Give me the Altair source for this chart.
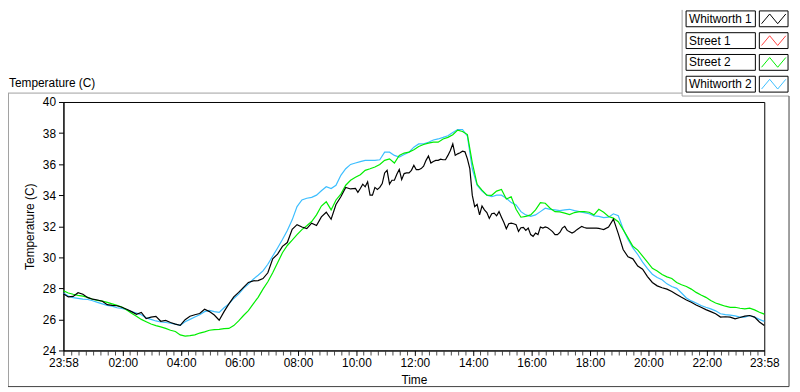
import altair as alt
import pandas as pd

FONT = "Liberation Sans"

series_names = ["Whitworth 1", "Street 1", "Street 2", "Whitworth 2"]
series_colors = ["#000000", "#FF4040", "#00EE00", "#3CBEFF"]

start_time = pd.Timestamp("2020-01-01 23:58:00")

# Whitworth 1: 10-min samples 23:58-09:48, 5-min samples 09:58-18:28, 10-min samples 18:38-23:58
whitworth_1_a = [
    27.65, 27.45, 27.48, 27.72, 27.62, 27.40, 27.30, 27.25, 27.17, 26.95,
    26.90, 26.88, 26.78, 26.65, 26.50, 26.33, 26.45, 26.05, 26.15, 26.20,
    25.88, 25.93, 25.80, 25.70, 25.62, 25.98, 26.20, 26.30, 26.38, 26.65,
    26.50, 26.28, 25.95, 26.50, 27.00, 27.45, 27.74, 28.06, 28.38, 28.48,
    28.50, 28.63, 29.00, 29.90, 30.20, 30.70, 30.95, 31.80, 32.10, 31.95,
    31.85, 32.20, 32.05, 32.60, 32.90, 32.45, 33.40, 33.90, 34.50, 34.40,
]
whitworth_1_b = [
    34.43, 34.18, 34.43, 34.71, 34.54, 34.86, 34.00, 34.00, 34.50, 34.37,
    34.50, 34.75, 35.43, 35.60, 34.71, 34.96, 34.96, 35.35, 35.66, 35.00,
    35.39, 35.43, 35.43, 35.60, 35.92, 35.64, 35.64, 35.71, 35.86, 36.24,
    36.52, 36.07, 36.17, 36.24, 36.24, 36.32, 36.28, 36.28, 36.56, 36.88,
    37.30, 36.56, 36.66, 36.73, 36.83, 36.79, 36.34, 35.71, 34.00, 33.26,
    33.40, 32.73, 33.30, 33.05, 32.88, 32.50, 32.80, 32.84, 32.67, 32.94,
    32.58, 32.24, 31.84, 32.16, 32.20, 32.16, 32.10, 31.67, 31.90, 31.92,
    31.73, 31.88, 31.46, 31.35, 31.56, 31.46, 31.95, 31.88, 31.95, 31.90,
    31.78, 31.65, 31.46, 31.46, 31.60, 31.88, 31.99, 31.73, 31.65, 31.56,
    31.65, 31.78, 31.88, 31.99, 31.92, 31.88, 31.88, 31.88, 31.88, 31.88,
    31.86, 31.82, 31.78,
]
whitworth_1_c = [
    31.95, 32.46, 31.52, 30.50, 30.03, 29.90, 29.44, 29.23,
    28.76, 28.38, 28.16, 28.04, 27.95, 27.80, 27.61, 27.42, 27.25, 27.10,
    26.93, 26.78, 26.63, 26.50, 26.36, 26.15, 26.17, 26.15, 26.04, 26.12,
    26.21, 26.25, 26.15, 25.83, 25.61,
]

street_2 = [
    27.85, 27.70, 27.62, 27.55, 27.50, 27.42, 27.30, 27.22, 27.18, 27.10,
    27.00, 26.90, 26.80, 26.60, 26.40, 26.20, 26.00, 25.85, 25.70, 25.60,
    25.52, 25.42, 25.30, 25.22, 25.00, 24.92, 24.95, 25.00, 25.12, 25.20,
    25.30, 25.34, 25.36, 25.40, 25.42, 25.60, 25.90, 26.25, 26.57, 27.00,
    27.42, 27.95, 28.42, 29.01, 29.65, 30.29, 30.76, 31.10, 31.46, 31.78,
    32.03, 32.30, 32.73, 33.30, 33.58, 33.05, 33.69, 34.07, 34.64, 34.96,
    35.15, 35.32, 35.60, 35.70, 35.81, 35.98, 36.24, 36.34, 36.07, 36.56,
    36.71, 36.77, 36.92, 37.13, 37.26, 37.35, 37.41, 37.41, 37.62, 37.72,
    37.89, 38.19, 38.10, 37.90, 36.10, 34.70, 34.33, 34.00, 33.99, 34.26,
    34.37, 33.75, 33.90, 33.09, 32.58, 32.63, 32.73, 33.05, 33.52, 33.48,
    33.16, 32.94, 32.92, 32.84, 32.75, 32.88, 32.94, 32.94, 32.90, 32.73,
    33.09, 32.90, 32.63, 32.52, 32.29, 31.78, 31.25, 30.71, 30.46, 30.08,
    29.69, 29.29, 29.12, 28.89, 28.74, 28.63, 28.38, 28.23, 28.12, 27.95,
    27.74, 27.57, 27.42, 27.21, 27.06, 26.95, 26.85, 26.78, 26.78, 26.72,
    26.68, 26.72, 26.61, 26.46, 26.34,
]

whitworth_2 = [
    27.70, 27.50, 27.40, 27.35, 27.30, 27.28, 27.20, 27.10, 27.00, 26.90,
    26.85, 26.75, 26.70, 26.62, 26.50, 26.40, 26.30, 26.10, 26.00, 25.90,
    25.83, 25.80, 25.75, 25.70, 25.62, 25.85, 26.00, 26.15, 26.30, 26.50,
    26.58, 26.50, 26.45, 26.75, 27.00, 27.35, 27.63, 28.00, 28.27, 28.59,
    28.84, 29.12, 29.55, 30.08, 30.60, 31.14, 31.73, 32.41, 33.26, 33.69,
    33.80, 33.86, 34.00, 34.28, 34.54, 34.43, 34.64, 35.28, 35.70, 35.98,
    36.07, 36.16, 36.24, 36.24, 36.24, 36.28, 36.77, 36.77, 36.56, 36.45,
    36.62, 36.77, 37.09, 37.30, 37.30, 37.41, 37.55, 37.62, 37.72, 37.83,
    38.04, 38.23, 38.23, 37.80, 35.70, 34.64, 34.26, 34.00, 33.90, 34.00,
    34.00, 33.80, 33.52, 33.37, 32.94, 32.73, 32.63, 32.73, 32.94, 33.16,
    33.09, 33.05, 33.00, 33.05, 33.09, 33.00, 32.94, 32.88, 32.80, 32.67,
    32.63, 32.55, 32.58, 32.80, 32.67, 31.82, 31.14, 30.61, 30.18, 29.69,
    29.27, 28.91, 28.70, 28.55, 28.29, 28.12, 28.00, 27.70, 27.38, 27.19,
    27.06, 26.89, 26.78, 26.68, 26.55, 26.36, 26.31, 26.27, 26.23, 26.15,
    26.15, 26.25, 26.15, 26.00, 25.87,
]

y_ticks = [24, 26, 28, 30, 32, 34, 36, 38, 40]
x_tick_labels = ["23:58", "02:00", "04:00", "06:00", "08:00", "10:00", "12:00",
                 "14:00", "16:00", "18:00", "20:00", "22:00", "23:58"]


def iso(ts):
    return ts.strftime("%Y-%m-%dT%H:%M:%S")


def frame(name, minutes, values):
    return pd.DataFrame({
        "time": [iso(start_time + pd.Timedelta(minutes=m)) for m in minutes],
        "series": name, "temp": values})


w1_minutes = ([10 * k for k in range(len(whitworth_1_a))]
              + [600 + 5 * k for k in range(len(whitworth_1_b))]
              + [1120 + 10 * k for k in range(len(whitworth_1_c))])
w1_values = whitworth_1_a + whitworth_1_b + whitworth_1_c

df = pd.concat([
    frame("Whitworth 2", [10 * k for k in range(len(whitworth_2))], whitworth_2),
    frame("Street 2", [10 * k for k in range(len(street_2))], street_2),
    frame("Whitworth 1", w1_minutes, w1_values),
], ignore_index=True)


def dt(day, hh, mm):
    return alt.DateTime(year=2020, month=1, date=day, hours=hh, minutes=mm)


major_vals = []
for lab in x_tick_labels:
    hh, mm = (int(v) for v in lab.split(":"))
    major_vals.append(dt(1 if (not major_vals) else 2, hh, mm))

# minor ticks every 15 minutes
minor_df = pd.DataFrame({"time": [
    iso(pd.Timestamp("2020-01-02 00:00:00") + pd.Timedelta(minutes=15 * k))
    for k in range(1, 96) if (15 * k) % 120 != 0]})

x_scale = alt.Scale(domain=[dt(1, 23, 58), dt(2, 23, 58)], nice=False)
y_scale = alt.Scale(domain=[24, 40], nice=False, zero=False)

major_axis = alt.Axis(values=major_vals, format="%H:%M", orient="bottom",
                      labelFont=FONT, labelFontSize=12, labelColor="black",
                      tickColor="black", tickSize=5, domainColor="black",
                      labelPadding=2, labelFlush=False, labelOverlap=False,
                      grid=False, title="Time", titleFont=FONT, titleFontSize=12,
                      titleFontWeight="normal", titleColor="black", titlePadding=6)
y_axis = alt.Axis(values=y_ticks, labelFont=FONT, labelFontSize=12, labelColor="black",
                  tickColor="black", tickSize=5, domainColor="black", labelPadding=3,
                  grid=False, title="Temperature (C)", titleFont=FONT, titleFontSize=12,
                  titleFontWeight="normal", titleColor="black", titlePadding=6)

color_scale = alt.Scale(domain=series_names, range=series_colors)


def line_layer(name, xaxis, yaxis):
    return alt.Chart(df).transform_filter(alt.datum.series == name).mark_line(
        strokeWidth=1.2, interpolate="linear").encode(
        x=alt.X("time:T", scale=x_scale, axis=xaxis),
        y=alt.Y("temp:Q", scale=y_scale, axis=yaxis),
        color=alt.Color("series:N", scale=color_scale, legend=None),
    )


blue = line_layer("Whitworth 2", None, None)
green = line_layer("Street 2", None, None)
black = line_layer("Whitworth 1", major_axis, y_axis)

# minor ticks drawn as short rules below the time axis (clip off)
minor_ticks = alt.Chart(minor_df).mark_tick(
    color="black", thickness=1, size=4, orient="vertical", clip=False,
    yOffset=2).encode(
    x=alt.X("time:T", scale=x_scale, axis=None),
    y=alt.value(252))

# ---- legend (LabVIEW style) ----
legend_df = pd.DataFrame({"name": series_names})
band = alt.Scale(domain=series_names, range=[-95, -7], paddingInner=0.273,
                 paddingOuter=0.136)
ly = alt.Y("name:N", scale=band, axis=None)
name_boxes = alt.Chart(legend_df).mark_rect(fill="white", stroke="black",
                                            strokeWidth=1).encode(
    x=alt.value(629), x2=alt.value(699), y=ly)
sym_boxes = alt.Chart(legend_df).mark_rect(fill="white", stroke="black",
                                           strokeWidth=1).encode(
    x=alt.value(703), x2=alt.value(732), y=ly)
name_text = alt.Chart(legend_df).mark_text(align="left", baseline="middle", font=FONT,
                                           fontSize=12, color="black").encode(
    x=alt.value(632), y=ly, text="name:N")
zigzag = "M-1,0.4L-0.33,-0.4L0.33,0.4L1,-0.4"
sym = alt.Chart(legend_df).mark_point(shape=zigzag, filled=False, size=600,
                                      strokeWidth=1, opacity=1).encode(
    x=alt.value(717.5), y=ly,
    stroke=alt.Stroke("name:N", scale=color_scale, legend=None))

# ---- panel frame ----
frame_df = pd.DataFrame({
    "x": [-56, 625, 625, -55.5, 733, -56],
    "x2": [625, 625, 733, -55.5, 733, 733],
    "y": [-9, -93, -6, -9, -6, 287.5],
    "y2": [-9, -6, -6, 287.5, 287.5, 287.5],
    "c": ["#A0A0A0", "#A0A0A0", "#A0A0A0", "#A0A0A0", "#404040", "#404040"],
})
panel = alt.Chart(frame_df).mark_rule(strokeWidth=1).encode(
    x=alt.X("x:Q", scale=None), x2="x2:Q",
    y=alt.Y("y:Q", scale=None), y2="y2:Q",
    color=alt.Color("c:N", scale=None))

header = alt.Chart(pd.DataFrame({"t": ["Temperature (C)"]})).mark_text(
    align="left", baseline="middle", font=FONT, fontSize=12, color="black").encode(
    x=alt.value(-55), y=alt.value(-19), text="t:N")

chart = alt.layer(panel, header, blue, green, black, name_boxes, sym_boxes,
                  name_text, sym, minor_ticks).resolve_scale(
    y="independent", color="independent").resolve_axis(x="independent").properties(
    width=708, height=251,
    padding={"left": 56, "top": 93, "right": 28, "bottom": 38},
    autosize=alt.AutoSizeParams(type="none"),
    background="white",
).configure_view(stroke="black", strokeWidth=1)

chart.save("out.html", embed_options={"renderer": "svg", "actions": False})
